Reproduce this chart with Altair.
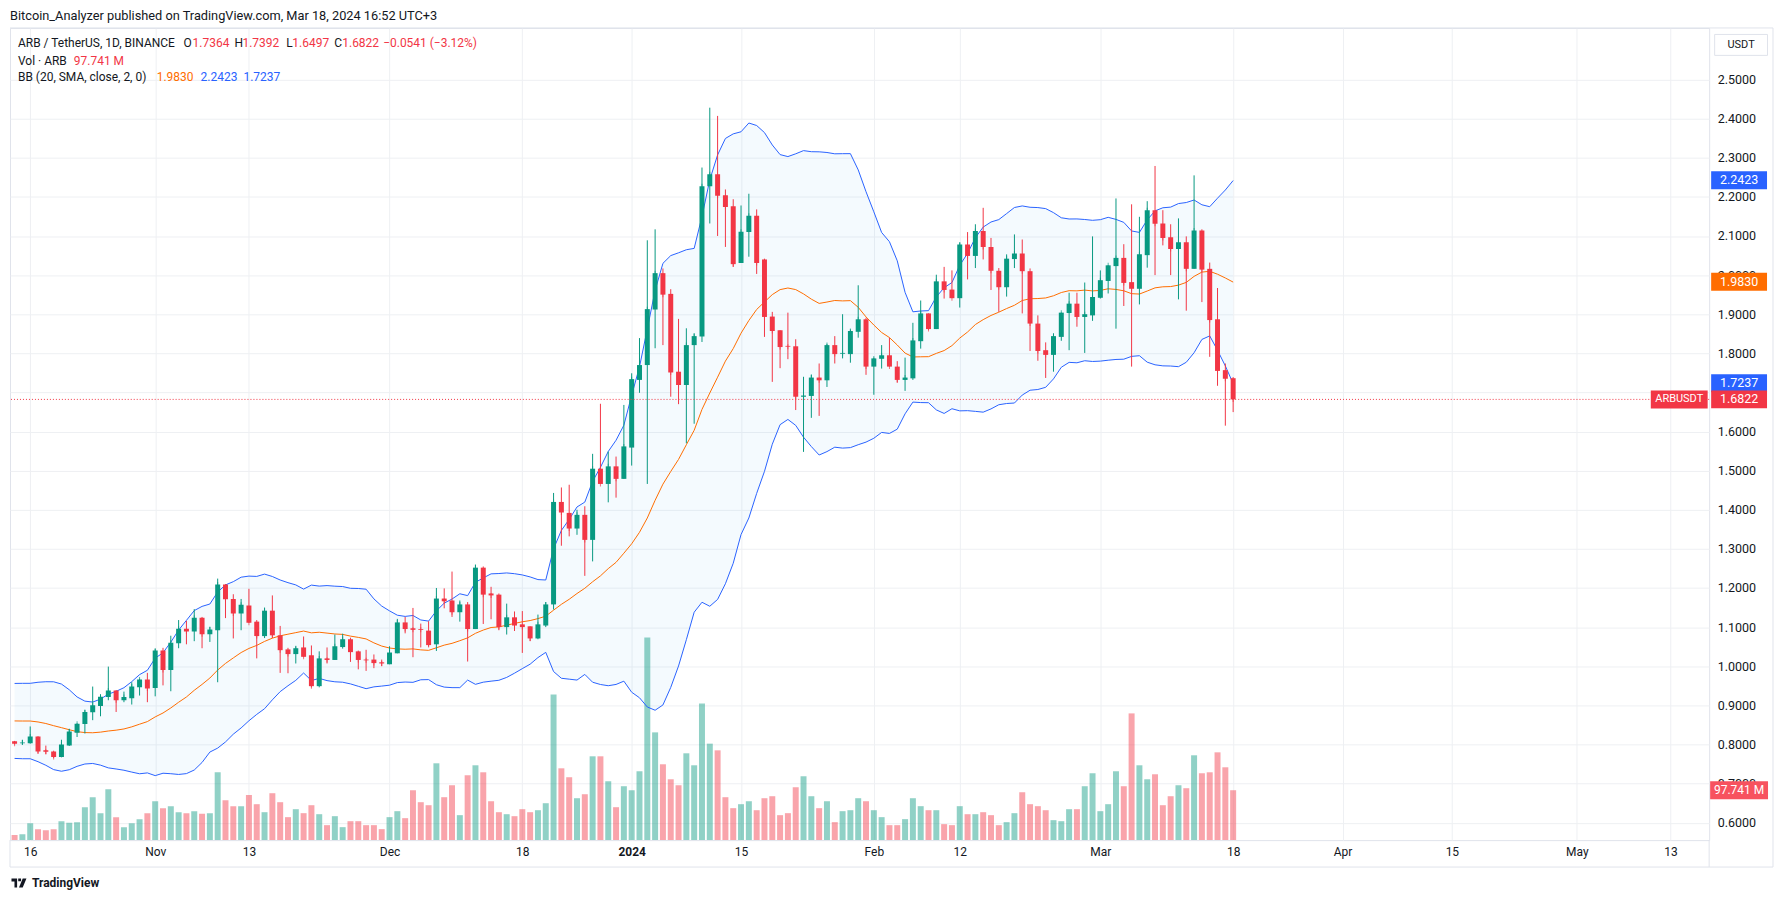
import altair as alt
import numpy as np
import pandas as pd

# ---------------- data (daily ARB/USDT, 14 Oct 2023 .. 18 Mar 2024) -------------
opens = [
    0.808, 0.803, 0.803, 0.820, 0.785, 0.782, 0.768, 0.797, 0.830, 0.852, 0.882, 0.898, 0.921, 0.938, 0.913, 0.918, 0.946, 0.966,
    0.944, 1.040, 0.990, 1.059, 1.096, 1.089, 1.124, 1.082, 1.092, 1.209, 1.172, 1.135, 1.155, 1.114, 1.077, 1.142, 1.079, 1.043,
    1.031, 1.048, 1.028, 0.949, 1.020, 1.016, 1.049, 1.069, 1.038, 1.017, 1.017, 1.010,
    1.005, 1.033, 1.112, 1.097, 1.095, 1.091, 1.056, 1.173, 1.168, 1.138, 1.158, 1.095, 1.252, 1.186, 1.183, 1.100, 1.125, 1.107,
    1.102, 1.071, 1.104, 1.158, 1.420, 1.392, 1.352, 1.387, 1.323, 1.505, 1.466, 1.511, 1.479,
    1.559, 1.732, 1.770, 1.912, 2.005, 1.952, 1.753, 1.719, 1.821, 1.843, 2.227, 2.258, 2.204, 2.176, 2.031, 2.110, 2.152, 2.040,
    1.894, 1.859, 1.819, 1.818, 1.689, 1.691, 1.738, 1.731, 1.821, 1.799, 1.798, 1.855, 1.887,
    1.766, 1.786, 1.795, 1.766, 1.732, 1.736, 1.831, 1.902, 1.862, 1.984, 1.963, 1.941, 2.078, 2.049, 2.113, 2.072, 2.011, 1.969,
    2.041, 2.055, 2.010, 1.876, 1.808, 1.796, 1.842, 1.903, 1.927, 1.893, 1.897,
    1.942, 1.985, 2.023, 2.044, 1.982, 1.965, 2.051, 2.166, 2.132, 2.097, 2.067, 2.084, 2.016, 2.114, 2.016, 1.887, 1.757, 1.7364,
]
highs = [
    0.809, 0.812, 0.846, 0.821, 0.797, 0.784, 0.812, 0.840, 0.854, 0.888, 0.948, 0.928, 0.999, 0.939, 0.935, 0.959, 0.968, 0.983,
    1.044, 1.047, 1.078, 1.118, 1.116, 1.146, 1.126, 1.101, 1.224, 1.210, 1.184, 1.172, 1.198, 1.118, 1.150, 1.181, 1.103, 1.047,
    1.051, 1.076, 1.053, 1.038, 1.048, 1.081, 1.083, 1.073, 1.040, 1.042, 1.030, 1.017,
    1.051, 1.121, 1.126, 1.149, 1.109, 1.115, 1.200, 1.199, 1.242, 1.168, 1.164, 1.260, 1.255, 1.203, 1.186, 1.160, 1.140, 1.141,
    1.102, 1.132, 1.164, 1.443, 1.457, 1.464, 1.400, 1.409, 1.543, 1.671, 1.549, 1.536, 1.668,
    1.749, 1.839, 2.089, 2.117, 2.017, 1.964, 1.888, 1.864, 1.851, 2.275, 2.428, 2.407, 2.219, 2.194, 2.178, 2.208, 2.168, 2.042,
    1.906, 1.859, 1.904, 1.836, 1.740, 1.746, 1.774, 1.824, 1.844, 1.900, 1.861, 1.974, 1.891,
    1.789, 1.821, 1.840, 1.780, 1.789, 1.878, 1.935, 1.902, 2.001, 2.021, 2.012, 2.083, 2.110, 2.130, 2.172, 2.095, 2.018, 2.053,
    2.104, 2.091, 2.017, 1.897, 1.828, 1.851, 1.904, 1.955, 1.955, 1.981, 2.099,
    2.012, 2.025, 2.196, 2.079, 2.181, 2.149, 2.189, 2.279, 2.166, 2.130, 2.145, 2.099, 2.255, 2.117, 2.032, 1.967, 1.774, 1.7392,
]
lows = [
    0.800, 0.799, 0.802, 0.777, 0.775, 0.765, 0.767, 0.796, 0.819, 0.828, 0.862, 0.872, 0.913, 0.883, 0.908, 0.902, 0.925, 0.908,
    0.923, 0.951, 0.936, 1.046, 1.056, 1.064, 1.046, 1.062, 0.959, 1.123, 1.071, 1.092, 1.111, 1.020, 1.072, 1.072, 0.983, 0.982,
    1.007, 1.023, 0.946, 0.946, 1.007, 1.016, 1.045, 1.011, 0.992, 0.988, 0.995, 1.000,
    1.005, 1.033, 1.084, 1.023, 1.048, 1.050, 1.039, 1.148, 1.126, 1.114, 1.012, 1.095, 1.108, 1.120, 1.092, 1.081, 1.090, 1.034,
    1.064, 1.069, 1.100, 1.145, 1.308, 1.332, 1.336, 1.231, 1.268, 1.466, 1.419, 1.431, 1.479,
    1.513, 1.699, 1.466, 1.813, 1.821, 1.689, 1.670, 1.570, 1.620, 1.829, 2.132, 2.100, 2.072, 2.021, 2.031, 2.047, 2.003, 1.842,
    1.727, 1.762, 1.785, 1.655, 1.548, 1.635, 1.640, 1.714, 1.774, 1.787, 1.776, 1.840, 1.745,
    1.694, 1.761, 1.766, 1.725, 1.704, 1.732, 1.812, 1.860, 1.862, 1.940, 1.941, 1.917, 1.989, 2.018, 2.040, 1.962, 1.906, 1.945,
    2.018, 1.902, 1.806, 1.781, 1.737, 1.753, 1.832, 1.808, 1.868, 1.801, 1.883,
    1.940, 1.953, 1.863, 1.921, 1.766, 1.925, 2.019, 2.000, 2.076, 2.000, 1.938, 1.909, 2.016, 1.931, 1.791, 1.717, 1.615, 1.6497,
]
closes = [
    0.802, 0.805, 0.820, 0.782, 0.781, 0.768, 0.800, 0.833, 0.853, 0.883, 0.900, 0.922, 0.938, 0.913, 0.921, 0.948, 0.966, 0.943,
    1.040, 0.990, 1.060, 1.096, 1.089, 1.124, 1.082, 1.094, 1.209, 1.171, 1.135, 1.157, 1.111, 1.077, 1.142, 1.079, 1.041, 1.031,
    1.046, 1.024, 0.949, 1.020, 1.016, 1.051, 1.069, 1.036, 1.016, 1.015, 1.008, 1.007,
    1.035, 1.112, 1.095, 1.093, 1.093, 1.054, 1.173, 1.166, 1.138, 1.158, 1.095, 1.252, 1.183, 1.181, 1.100, 1.125, 1.104, 1.100,
    1.071, 1.107, 1.158, 1.420, 1.393, 1.352, 1.387, 1.323, 1.505, 1.466, 1.511, 1.479, 1.562,
    1.734, 1.770, 1.913, 2.005, 1.950, 1.751, 1.719, 1.821, 1.844, 2.227, 2.258, 2.203, 2.174, 2.028, 2.111, 2.152, 2.031, 1.893,
    1.857, 1.816, 1.817, 1.689, 1.692, 1.738, 1.731, 1.821, 1.798, 1.801, 1.857, 1.887, 1.766,
    1.787, 1.795, 1.766, 1.732, 1.738, 1.833, 1.902, 1.862, 1.984, 1.962, 1.941, 2.078, 2.049, 2.113, 2.072, 2.011, 1.969, 2.042,
    2.055, 2.010, 1.876, 1.806, 1.796, 1.844, 1.904, 1.927, 1.893, 1.900, 1.944,
    1.987, 2.025, 2.044, 1.980, 1.965, 2.053, 2.166, 2.131, 2.095, 2.067, 2.084, 2.016, 2.114, 2.014, 1.885, 1.755, 1.735, 1.6822,
]
volumes_m = [
    9.8, 11.7, 33.2, 21.5, 19.5, 21.5, 37.1, 33.9, 35.2, 64.5, 84.1, 52.8, 99.7, 45.0, 25.4, 33.2, 41.1, 52.8,
    76.2, 62.6, 66.5, 54.7, 52.8, 56.7, 51.5, 52.8, 132.9, 78.2, 66.5, 66.5, 88.6, 70.4, 54.7, 91.9, 74.3, 45.0,
    60.6, 52.8, 68.4, 50.8, 29.3, 46.9, 25.4, 37.1, 37.1, 29.3, 29.3, 21.5,
    45.0, 56.7, 43.0, 97.7, 74.3, 68.4, 150.5, 84.1, 107.5, 48.9, 127.1, 146.6, 132.9, 76.2, 54.7, 50.8, 46.9, 60.6,
    54.7, 58.6, 72.3, 285.4, 140.7, 123.2, 82.1, 89.9, 164.2, 164.2, 115.3, 64.5, 105.6,
    97.7, 134.9, 396.8, 211.1, 148.6, 119.2, 107.5, 170.1, 146.6, 267.8, 189.0, 175.9, 84.1, 62.6, 70.4, 76.2, 58.6, 82.1,
    86.0, 48.9, 52.8, 103.6, 125.1, 86.0, 62.6, 76.2, 35.2, 56.7, 58.6, 82.1, 76.2,
    58.6, 45.0, 29.3, 29.3, 41.1, 82.1, 66.5, 58.6, 58.6, 31.3, 29.3, 66.5, 50.8, 50.8, 54.7, 48.9, 29.3, 35.2,
    52.8, 93.8, 70.4, 66.5, 58.6, 39.1, 37.1, 60.6, 60.6, 105.6, 131.0,
    56.7, 70.4, 134.9, 105.6, 248.3, 146.6, 119.2, 129.0, 68.4, 86.0, 107.5, 101.7, 166.2, 131.0, 132.9, 172.0, 142.7, 97.741,
]
# closes of the 19 days before the visible window (25 Sep .. 13 Oct), estimated so the BB(20) starts as drawn
prior_closes = [0.81, 0.82, 0.83, 0.86, 0.88, 0.90, 0.94, 0.95, 0.93, 0.91, 0.89, 0.88, 0.87, 0.86, 0.84, 0.83, 0.81, 0.80, 0.79]

bb_values = [1.9830, 2.2423, 1.7237]          # basis, upper, lower (legend read-out)
vol_label = "97.741 M"
change_label = "\u22120.0541 (\u22123.12%)"

tick_days = [2, 18, 30, 48, 65, 79, 93, 110, 121, 139, 156, 170, 184, 200, 212]
tick_labels = ["16", "Nov", "13", "Dec", "18", "2024", "15", "Feb", "12", "Mar", "18", "Apr", "15", "May", "13"]
price_ticks = [0.6, 0.7, 0.8, 0.9, 1.0, 1.1, 1.2, 1.3, 1.4, 1.5, 1.6, 1.7, 1.8, 1.9, 2.0, 2.1, 2.2, 2.3, 2.4, 2.5]

n = len(closes)
assert all(len(a) == n for a in (opens, highs, lows, volumes_m)), [len(a) for a in (opens, highs, lows, closes, volumes_m)]

# ---------------- styling ----------------
FONT = "Roboto"
UP, DOWN = "#089981", "#f23645"
BLUE, ORANGE = "#2962ff", "#ff6d00"
INK = "#131722"
GRID = "#eef0f3"
FRAME = "#e0e3eb"
W, H = 1703, 814

# Bollinger bands (20, SMA, close, 2)
s = pd.Series(prior_closes + closes, dtype=float)
basis = s.rolling(20).mean().to_numpy()[len(prior_closes):]
sd = s.rolling(20).std(ddof=0).to_numpy()[len(prior_closes):]

df = pd.DataFrame({
    "idx": np.arange(n), "open": opens, "high": highs, "low": lows, "close": closes,
    "vol": volumes_m, "basis": basis, "upper": basis + 2 * sd, "lower": basis - 2 * sd,
})
df["col"] = np.where(df["close"] >= df["open"], UP, DOWN)
df["date"] = pd.date_range("2023-10-14", periods=n, freq="D").strftime("%Y-%m-%d")

XS = alt.Scale(domain=[0.051, 216.3], nice=False, zero=False)
PS = alt.Scale(domain=[0.55536, 2.6319], nice=False, zero=False)
VS = alt.Scale(domain=[0, 1591.2], nice=False)

label_expr = " : ".join(f"datum.value == {d} ? '{t}'" for d, t in zip(tick_days, tick_labels)) + " : ''"
X_AXIS = alt.Axis(values=tick_days, labelExpr=label_expr, grid=True, gridColor=GRID, ticks=False, domain=False,
                  labelPadding=6, labelFontSize=12, labelColor=INK, labelFont=FONT, title=None,
                  labelFlush=False, labelOverlap=False,
                  labelFontWeight={"condition": {"test": "datum.value == 79", "value": "bold"}, "value": "normal"})
# the 1.7000 label sits entirely under the last-price badges in the reference
Y_AXIS = alt.Axis(orient="right", values=price_ticks, grid=True, gridColor=GRID, ticks=False,
                  labelExpr="abs(datum.value - 1.7) < 0.001 ? '' : format(datum.value, '.4f')",
                  domain=False, labelPadding=8, labelFontSize=12.5, labelColor=INK, labelFont=FONT, title=None,
                  labelAlign="left", labelOverlap=False)

X = alt.X("idx:Q", scale=XS, axis=X_AXIS)
base = alt.Chart(df)

band_fill = base.mark_area(color="#2196f3", opacity=0.05, clip=True).encode(
    x=X, y=alt.Y("upper:Q", scale=PS, axis=Y_AXIS), y2="lower:Q")
volume = base.mark_bar(size=6, opacity=0.45, clip=True).encode(
    x=X, y=alt.Y("vol:Q", scale=VS, axis=None), color=alt.Color("col:N", scale=None))
upper_line = base.mark_line(color=BLUE, strokeWidth=1, clip=True).encode(
    x=X, y=alt.Y("upper:Q", scale=PS, axis=None))
lower_line = base.mark_line(color=BLUE, strokeWidth=1, clip=True).encode(
    x=X, y=alt.Y("lower:Q", scale=PS, axis=None))
basis_line = base.mark_line(color=ORANGE, strokeWidth=1, clip=True).encode(
    x=X, y=alt.Y("basis:Q", scale=PS, axis=None))
wicks = base.mark_rule(strokeWidth=1, clip=True).encode(
    x=X, y=alt.Y("low:Q", scale=PS, axis=None), y2="high:Q", color=alt.Color("col:N", scale=None))
bodies = base.mark_bar(size=5, clip=True).encode(
    x=X, y=alt.Y("open:Q", scale=PS, axis=None), y2="close:Q", color=alt.Color("col:N", scale=None))
body_edge = base.mark_tick(size=5, thickness=1, clip=True).encode(
    x=X, y=alt.Y("close:Q", scale=PS, axis=None), color=alt.Color("col:N", scale=None))

last_df = pd.DataFrame({"p": [closes[-1]]})
last_rule = alt.Chart(last_df).mark_rule(color=DOWN, strokeDash=[1, 2], strokeWidth=1).encode(
    y=alt.Y("p:Q", scale=PS, axis=None))

# price-scale badges
def rect_path(h_over_w):
    return f"M-1,-{h_over_w:.3f}L1,-{h_over_w:.3f}L1,{h_over_w:.3f}L-1,{h_over_w:.3f}Z"

badge_df = pd.DataFrame({
    "price": [bb_values[1], bb_values[0], bb_values[2], closes[-1]],
    "label": [f"{bb_values[1]:.4f}", f"{bb_values[0]:.4f}", f"{bb_values[2]:.4f}", f"{closes[-1]:.4f}"],
    "fill": [BLUE, ORANGE, BLUE, DOWN],
})
BX = 1733
badge_box = alt.Chart(badge_df).mark_point(shape=rect_path(18 / 56), filled=True, size=56 ** 2, opacity=1).encode(
    x=alt.value(BX), y=alt.Y("price:Q", scale=PS, axis=None), color=alt.Color("fill:N", scale=None))
badge_txt = alt.Chart(badge_df).mark_text(color="white", fontSize=12.5, font=FONT, align="center", baseline="middle").encode(
    x=alt.value(BX), y=alt.Y("price:Q", scale=PS, axis=None), text="label:N")

sym_df = pd.DataFrame({"price": [closes[-1]], "label": ["ARBUSDT"]})
sym_box = alt.Chart(sym_df).mark_point(shape=rect_path(18 / 57), filled=True, size=57 ** 2, opacity=1, color=DOWN).encode(
    x=alt.value(1673), y=alt.Y("price:Q", scale=PS, axis=None))
sym_txt = alt.Chart(sym_df).mark_text(color="white", fontSize=11, font=FONT, align="center", baseline="middle").encode(
    x=alt.value(1673), y=alt.Y("price:Q", scale=PS, axis=None), text="label:N")

vb_df = pd.DataFrame({"v": [volumes_m[-1]], "label": [vol_label]})
vol_box = alt.Chart(vb_df).mark_point(shape=rect_path(18 / 58), filled=True, size=58 ** 2, opacity=1, color="#f7525f").encode(
    x=alt.value(BX), y=alt.Y("v:Q", scale=VS, axis=None))
vol_txt = alt.Chart(vb_df).mark_text(color="white", fontSize=12, font=FONT, align="center", baseline="middle").encode(
    x=alt.value(BX), y=alt.Y("v:Q", scale=VS, axis=None), text="label:N")

# text helper (annotation layout only)
def txt(t, x, y, color=INK, size=12, weight="normal", align="left"):
    return alt.Chart(pd.DataFrame({"t": [t]})).mark_text(
        align=align, baseline="middle", fontSize=size, font=FONT, color=color, fontWeight=weight
    ).encode(x=alt.value(x), y=alt.value(y), text="t:N")

texts = [
    txt("Bitcoin_Analyzer published on TradingView.com, Mar 18, 2024 16:52 UTC+3", 0, -12, INK, 12.8),
    txt("ARB / TetherUS, 1D, BINANCE", 8, 15),
    txt("O", 174, 15), txt(f"{opens[-1]:.4f}", 183, 15, DOWN),
    txt("H", 225, 15), txt(f"{highs[-1]:.4f}", 233, 15, DOWN),
    txt("L", 277, 15), txt(f"{lows[-1]:.4f}", 283, 15, DOWN),
    txt("C", 325, 15), txt(f"{closes[-1]:.4f}", 333, 15, DOWN),
    txt(change_label, 374, 15, DOWN),
    txt("Vol \u00b7 ARB", 8, 33), txt(vol_label, 64, 33, DOWN),
    txt("BB (20, SMA, close, 2, 0)", 8, 49),
    txt(f"{bb_values[0]:.4f}", 147, 49, ORANGE),
    txt(f"{bb_values[1]:.4f}", 191, 49, BLUE),
    txt(f"{bb_values[2]:.4f}", 234, 49, BLUE),
    txt("TradingView", 22, 857, INK, 12, "bold"),
]

usdt_box = alt.Chart(pd.DataFrame({"t": ["USDT"]})).mark_point(
    shape=rect_path(21 / 53), filled=True, size=53 ** 2, fill="white", stroke=FRAME, strokeWidth=1, opacity=1
).encode(x=alt.value(1735), y=alt.value(17))
usdt_txt = txt("USDT", 1735, 17, INK, 11, "normal", "center")

logo_path = ("M-1,-0.6L-0.25,-0.6L-0.25,0.6L-0.6,0.6L-0.6,-0.2L-1,-0.2Z"
             "M0.5,-0.6L1,-0.6L0.5,0.6L0,0.6Z"
             "M-0.1,-0.6L0.28,-0.6L0.28,-0.25L-0.1,-0.25Z")
logo = alt.Chart(pd.DataFrame({"t": ["logo"]})).mark_point(
    shape=logo_path, filled=True, size=15 ** 2, color=INK, opacity=1
).encode(x=alt.value(9), y=alt.value(857))

def frame_line(x1, x2, y1, y2):
    return alt.Chart(pd.DataFrame({"t": [0]})).mark_rule(color=FRAME, strokeWidth=1).encode(
        x=alt.value(x1), x2=alt.value(x2), y=alt.value(y1), y2=alt.value(y2))

frames = [
    frame_line(0, 1767, 0, 0),
    frame_line(1767, 1767, 0, 841),
    frame_line(0, 1767, 841, 841),
    frame_line(0, 0, 814, 841),
    frame_line(W, W, 814, 841),
]

chart = alt.layer(
    band_fill, volume, upper_line, lower_line, basis_line, wicks, bodies, body_edge, last_rule,
    *frames, badge_box, badge_txt, sym_box, sym_txt, vol_box, vol_txt, usdt_box, usdt_txt, logo, *texts
).resolve_scale(y="independent").properties(
    width=W, height=H,
    autosize=alt.AutoSizeParams(type="none"),
    padding={"left": 2, "top": 19, "right": 70, "bottom": 50},
    background="white",
).configure(font=FONT).configure_view(stroke=FRAME, strokeWidth=1)

chart.save("out.html", embed_options={"renderer": "svg", "actions": False})
